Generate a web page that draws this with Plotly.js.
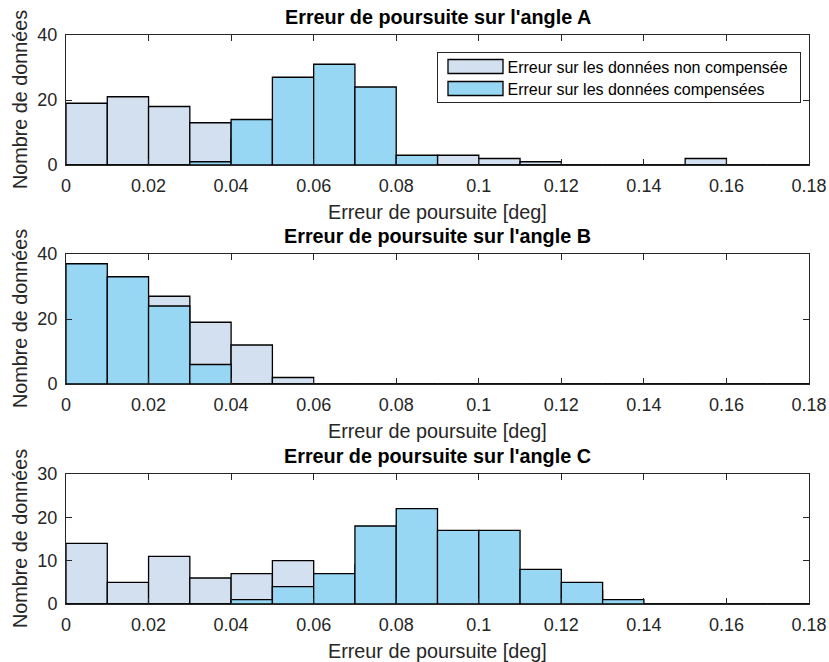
<!DOCTYPE html>
<html><head><meta charset="utf-8">
<script src="https://cdn.plot.ly/plotly-3.0.1.min.js"></script>
<style>body{margin:0;padding:0;background:#fff}#chart{width:829px;height:662px}</style>
</head><body><div id="chart"></div>
<script>
// Bin edges 0:0.01:0.18 -> bin centres
const binCenters = [0.005,0.015,0.025,0.035,0.045,0.055,0.065,0.075,0.085,0.095,0.105,0.115,0.125,0.135,0.145,0.155,0.165,0.175];
const binWidth = 0.01;

// Angle A
const nonCompA = [19,21,18,13,8,6,4,2,1,3,2,1,0,0,0,2,0,0];
const compA    = [0,0,0,1,14,27,31,24,3,0,0,0,0,0,0,0,0,0];
// Angle B
const nonCompB = [20,20,27,19,12,2,0,0,0,0,0,0,0,0,0,0,0,0];
const compB    = [37,33,24,6,0,0,0,0,0,0,0,0,0,0,0,0,0,0];
// Angle C
const nonCompC = [14,5,11,6,7,10,6,9,10,7,7,5,3,0,0,0,0,0];
const compC    = [0,0,0,0,1,4,7,18,22,17,17,8,5,1,0,0,0,0];

const titles = ["Erreur de poursuite sur l'angle A","Erreur de poursuite sur l'angle B","Erreur de poursuite sur l'angle C"];
const yMax = [40,40,30];
const yTicks = [[0,20,40],[0,20,40],[0,10,20,30]];
const xTicks = [0,0.02,0.04,0.06,0.08,0.1,0.12,0.14,0.16,0.18];
const xTickText = ['0','0.02','0.04','0.06','0.08','0.1','0.12','0.14','0.16','0.18'];
const nameNon = 'Erreur sur les données non compensée';
const nameComp = 'Erreur sur les données compensées';
const xLabel = 'Erreur de poursuite [deg]';
const yLabel = 'Nombre de données';

const H = 662;
const colNon = '#d2e0ef';
const colComp = '#97d7f3';
const axCol = '#262626';
// pixel boxes for plot areas (top, bottom)
const boxes = [[35,165],[254,384],[474,604]];

const nonData = [nonCompA,nonCompB,nonCompC];
const compData = [compA,compB,compC];

const traces = [];
const layout = {
  width:829, height:662,
  margin:{l:66,r:20,t:0,b:0},
  paper_bgcolor:'#fff', plot_bgcolor:'#fff',
  barmode:'overlay', bargap:0,
  font:{family:'Liberation Sans, Arial, sans-serif', size:18, color:axCol},
  showlegend:true,
  legend:{x:(437-66)/743, y:1-52/H, xanchor:'left', yanchor:'top',
    bgcolor:'#fff', bordercolor:'#262626', borderwidth:1,
    font:{size:16,color:'#000'}, tracegroupgap:0},
  annotations:[]
};

for (let i=0;i<3;i++){
  const xa = i===0?'x':'x'+(i+1);
  const ya = i===0?'y':'y'+(i+1);
  traces.push({type:'bar', x:binCenters, y:nonData[i], width:binWidth, xaxis:xa, yaxis:ya,
    name:nameNon, showlegend:i===0, legendgroup:'non',
    marker:{color:colNon, line:{color:'#000', width:1.3}}, hoverinfo:'x+y'});
  traces.push({type:'bar', x:binCenters, y:compData[i], width:binWidth, xaxis:xa, yaxis:ya,
    name:nameComp, showlegend:i===0, legendgroup:'comp',
    marker:{color:colComp, line:{color:'#000', width:1.3}}, hoverinfo:'x+y'});
  const [t,b] = boxes[i];
  const axisCommon = {showline:true, linecolor:axCol, linewidth:1, mirror:'ticks',
    ticks:'inside', ticklen:6, tickcolor:axCol, showgrid:false, zeroline:false,
    tickfont:{size:18,color:axCol}, automargin:false, ticklabelstandoff:4};
  layout[i===0?'xaxis':'xaxis'+(i+1)] = Object.assign({}, axisCommon, {
    anchor:ya, domain:[0,1], range:[0,0.18], tickvals:xTicks, ticktext:xTickText});
  layout[i===0?'yaxis':'yaxis'+(i+1)] = Object.assign({}, axisCommon, {
    anchor:xa, domain:[1-b/H, 1-t/H], range:[0,yMax[i]], tickvals:yTicks[i]});
  // subplot title
  layout.annotations.push({xref:'paper', yref:'paper', x:0.5, y:1-(t-18)/H,
    xanchor:'center', yanchor:'middle', showarrow:false,
    text:'<b>'+titles[i]+'</b>', font:{size:19.8,color:'#000'}});
  // x axis title
  layout.annotations.push({xref:'paper', yref:'paper', x:0.5, y:1-(b+47)/H,
    xanchor:'center', yanchor:'middle', showarrow:false,
    text:xLabel, font:{size:19.8,color:axCol}});
  // y axis title
  layout.annotations.push({xref:'paper', yref:'paper', x:-46/743, y:1-((t+b)/2)/H,
    xanchor:'center', yanchor:'middle', showarrow:false, textangle:-90,
    text:yLabel, font:{size:19.8,color:axCol}});
}

function getT(el){
  const t = el.getAttribute('transform') || '';
  const m = /translate\(\s*([-\d.e]+)[ ,]+([-\d.e]+)/.exec(t);
  return m ? [+m[1], +m[2]] : [0,0];
}
function setT(el,x,y){ el.setAttribute('transform','translate('+x+','+y+')'); }

Plotly.newPlot('chart', traces, layout, {displayModeBar:false, staticPlot:true}).then(function(gd){
  // MATLAB-like legend: wide rectangular swatches, tighter rows
  const leg = gd.querySelector('.legend');
  if (!leg) return;
  leg.querySelectorAll('[clip-path]').forEach(e => e.removeAttribute('clip-path'));
  const bg = leg.querySelector('rect.bg');
  const r0 = bg.getBoundingClientRect();
  const L = r0.left, T = r0.top;
  const items = leg.querySelectorAll('g.traces');
  let maxRight = 0;
  items.forEach(function(item,k){
    const pts = item.querySelector('.legendpoints');
    const path = pts ? pts.querySelector('path') : null;
    if (path){
      path.setAttribute('d','M-27.5,-7H27.5V7H-27.5Z');
      path.removeAttribute('transform');
      setT(pts,0,0);
      const pr = path.getBoundingClientRect();
      const cx = (pr.left+pr.right)/2, cy = (pr.top+pr.bottom)/2;
      const [ix,iy] = getT(item);
      setT(item, ix, iy + (T + 14 + 22*k - cy));
      setT(pts, (L + 38) - cx, 0);
    }
    const txt = item.querySelector('text.legendtext');
    if (txt){
      const tr = txt.getBoundingClientRect();
      const x0 = parseFloat(txt.getAttribute('x')||'0');
      txt.setAttribute('x', x0 + (L + 70 - tr.left));
      maxRight = Math.max(maxRight, txt.getBoundingClientRect().right);
    }
    const tg = item.querySelector('rect.legendtoggle');
    if (tg) tg.remove();
  });
  bg.setAttribute('width', Math.round(maxRight - L + 13));
  bg.setAttribute('height', 50);
});
</script></body></html>
